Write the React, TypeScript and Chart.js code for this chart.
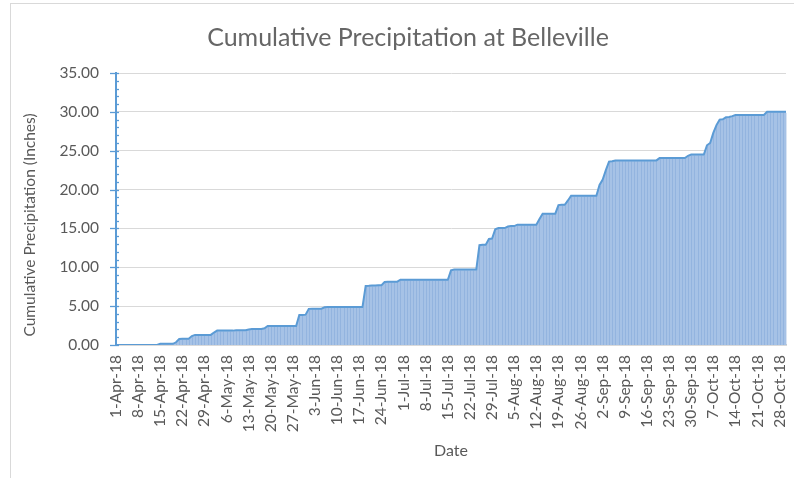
import React, { useEffect, useRef } from "react";
import { Chart, registerables } from "chart.js";

Chart.register(...registerables);

// ---- data ----
const START_YEAR = 2018;
const START_MONTH = 3; // April (0-based)
const MONTH_NAMES = ["Jan", "Feb", "Mar", "Apr", "May", "Jun", "Jul", "Aug", "Sep", "Oct", "Nov", "Dec"];

const aprilInches = [0, 0, 0, 0, 0, 0, 0, 0, 0, 0, 0, 0, 0, 0, 0.15, 0.15, 0.15, 0.15, 0.15, 0.35, 0.78, 0.8, 0.8, 0.8, 1.15, 1.3, 1.3, 1.3, 1.3, 1.3];
const mayInches = [1.3, 1.6, 1.85, 1.85, 1.85, 1.85, 1.85, 1.85, 1.9, 1.9, 1.9, 1.9, 2.0, 2.05, 2.05, 2.05, 2.05, 2.15, 2.45, 2.45, 2.45, 2.45, 2.45, 2.45, 2.45, 2.45, 2.45, 2.45, 3.85, 3.85, 3.9];
const juneInches = [4.65, 4.68, 4.68, 4.68, 4.68, 4.85, 4.9, 4.9, 4.9, 4.9, 4.9, 4.9, 4.9, 4.9, 4.9, 4.9, 4.9, 4.9, 7.6, 7.62, 7.65, 7.65, 7.7, 7.7, 8.1, 8.15, 8.15, 8.15, 8.15, 8.4];
const julyInches = [8.4, 8.4, 8.4, 8.4, 8.4, 8.4, 8.4, 8.4, 8.4, 8.4, 8.4, 8.4, 8.4, 8.4, 8.4, 9.6, 9.7, 9.7, 9.7, 9.7, 9.7, 9.7, 9.7, 9.7, 12.85, 12.9, 12.9, 13.65, 13.7, 14.9, 15.05];
const augustInches = [15.05, 15.05, 15.25, 15.3, 15.3, 15.48, 15.48, 15.48, 15.48, 15.48, 15.48, 15.48, 16.2, 16.9, 16.9, 16.9, 16.9, 16.9, 18.0, 18.05, 18.05, 18.6, 19.2, 19.2, 19.2, 19.2, 19.2, 19.2, 19.2, 19.2, 19.2];
const septemberInches = [20.6, 21.3, 22.5, 23.6, 23.65, 23.75, 23.75, 23.75, 23.75, 23.75, 23.75, 23.75, 23.75, 23.75, 23.75, 23.75, 23.75, 23.75, 23.75, 24.05, 24.05, 24.05, 24.05, 24.05, 24.05, 24.05, 24.05, 24.05, 24.35, 24.5];
const octoberInches = [24.5, 24.5, 24.5, 24.5, 25.7, 26.0, 27.3, 28.3, 29.0, 29.05, 29.3, 29.35, 29.45, 29.6, 29.6, 29.6, 29.6, 29.6, 29.6, 29.6, 29.6, 29.6, 29.6, 30.0, 30.0, 30.0, 30.0, 30.0, 30.0, 30.0];

const cumulativeInches = [
  ...aprilInches,
  ...mayInches,
  ...juneInches,
  ...julyInches,
  ...augustInches,
  ...septemberInches,
  ...octoberInches,
];

const dateLabels = cumulativeInches.map((_, i) => {
  const d = new Date(Date.UTC(START_YEAR, START_MONTH, 1 + i));
  return `${d.getUTCDate()}-${MONTH_NAMES[d.getUTCMonth()]}-${String(d.getUTCFullYear()).slice(2)}`;
});

const LABEL_EVERY = 7;
const Y_MIN = 0;
const Y_MAX = 35;
const Y_STEP = 5;
const Y_MINOR_STEP = 1;

const TITLE = "Cumulative Precipitation at Belleville";
const X_TITLE = "Date";
const Y_TITLE = "Cumulative Precipitation (Inches)";

const FONT = "Lato, 'Open Sans', sans-serif";
const TEXT = "#595959";
const BLUE = "#5b9bd5";
const GRID = "#d9d9d9";

const stripesPlugin = {
  id: "stripes",
  beforeDatasetDraw(chart: any) {
    const meta = chart.getDatasetMeta(0);
    const { ctx, chartArea } = chart;
    ctx.save();
    ctx.strokeStyle = "rgba(80,130,200,0.22)";
    ctx.lineWidth = 1;
    meta.data.forEach((pt: any) => {
      const x = Math.round(pt.x) + 0.5;
      if (pt.y >= chartArea.bottom - 1) return;
      ctx.beginPath();
      ctx.moveTo(x, pt.y + 1);
      ctx.lineTo(x, chartArea.bottom);
      ctx.stroke();
    });
    ctx.restore();
  },
};

const decorPlugin = {
  id: "decor",
  afterDraw(chart: any) {
    const { ctx } = chart;
    const y = chart.scales.y;
    const x0 = chart.chartArea.left;
    ctx.save();
    ctx.strokeStyle = BLUE;
    ctx.lineWidth = 1.3;
    for (let v = Y_MIN; v <= Y_MAX; v += Y_MINOR_STEP) {
      const py = Math.round(y.getPixelForValue(v)) + 0.5;
      const major = v % Y_STEP === 0;
      ctx.beginPath();
      ctx.moveTo(major ? x0 - 6 : x0, py);
      ctx.lineTo(x0 + 3, py);
      ctx.stroke();
    }
    // chart title (centred on the full chart frame)
    ctx.fillStyle = "#666666";
    ctx.font = `25px ${FONT}`;
    ctx.textAlign = "center";
    ctx.textBaseline = "middle";
    ctx.fillText(TITLE, 408, 38);
    // y axis title
    ctx.translate(30, (chart.chartArea.top + chart.chartArea.bottom) / 2 + 16);
    ctx.rotate(-Math.PI / 2);
    ctx.fillStyle = TEXT;
    ctx.font = `15.5px ${FONT}`;
    ctx.fillText(Y_TITLE, 0, 0);
    ctx.restore();
  },
};

function PrecipChart() {
  const ref = useRef<HTMLCanvasElement | null>(null);

  useEffect(() => {
    if (!ref.current) return;
    const chart = new Chart(ref.current, {
      type: "line",
      data: {
        labels: dateLabels,
        datasets: [
          {
            data: cumulativeInches,
            borderColor: BLUE,
            borderWidth: 2,
            backgroundColor: "#a6c2e6",
            fill: "origin",
            pointRadius: 0,
            tension: 0,
          },
        ],
      },
      options: {
        responsive: false,
        animation: false,
        maintainAspectRatio: false,
        layout: { padding: { left: 0, right: 8, top: 73, bottom: 0 } },
        plugins: {
          legend: { display: false },
          tooltip: { enabled: false },
          title: { display: false },
        },
        scales: {
          x: {
            type: "category",
            offset: false,
            grid: { display: false, drawTicks: false },
            border: { display: true, color: GRID, width: 2 },
            ticks: {
              autoSkip: false,
              maxRotation: 90,
              minRotation: 90,
              padding: 10,
              color: TEXT,
              font: { family: FONT, size: 15.5 },
              callback: function (this: any, value: any, index: number) {
                return index % LABEL_EVERY === 0 ? this.getLabelForValue(value) : "";
              },
            },
            title: {
              display: true,
              text: X_TITLE,
              color: TEXT,
              font: { family: FONT, size: 16 },
              padding: { top: 0, bottom: 18 },
            },
            afterFit: (s: any) => {
              s.height = 133;
              s.paddingLeft = 0;
              s.paddingRight = 0;
            },
          },
          y: {
            min: Y_MIN,
            max: Y_MAX,
            grid: { color: GRID, drawTicks: false },
            border: { display: true, color: BLUE, width: 2 },
            ticks: {
              stepSize: Y_STEP,
              padding: 17,
              color: TEXT,
              font: { family: FONT, size: 15.5 },
              callback: (v: any) => Number(v).toFixed(2),
            },
            title: { display: false },
            afterFit: (s: any) => {
              s.width = 116;
              s.paddingTop = 0;
              s.paddingBottom = 0;
            },
          },
        },
      },
      plugins: [stripesPlugin, decorPlugin],
    } as any);
    return () => chart.destroy();
  }, []);

  return (
    <div style={{ position: "fixed", left: 0, top: 0, width: 794, height: 478, background: "#fff", overflow: "hidden" }}>
      <div
        style={{
          position: "absolute",
          left: 10,
          top: 3,
          width: 800,
          height: 500,
          border: `1px solid ${GRID}`,
          boxSizing: "border-box",
        }}
      />
      <canvas ref={ref} width={794} height={478} style={{ position: "absolute", left: 0, top: 0 }} />
    </div>
  );
}

export default function App() {
  return <PrecipChart />;
}
